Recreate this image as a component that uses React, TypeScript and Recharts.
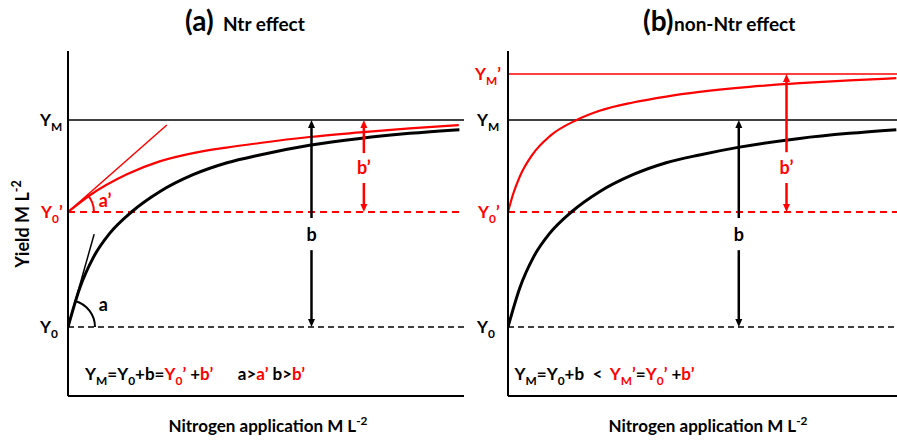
import React from 'react';
import { LineChart, Line, XAxis, YAxis, ReferenceLine, ReferenceDot } from 'recharts';

const RED = '#ff0000';
const BLACK = '#000000';
const FONT = 'Lato, "Open Sans", sans-serif';

// Reference levels
const Y0 = 1.5;
const Y0P = 4;
const YM = 6;
const YMP = 7;

const yTicks = [0, 1, 2, 3, 4, 5, 6, 7];
const xTicksA = [0, 1, 2, 3, 4, 5, 6];
const xTicksB = [0, 1, 2, 3, 4, 5];

// Panel (a) Ntr effect
const aBlackX = [0, 0.18, 0.39, 0.64, 0.97, 1.4, 1.91, 2.43, 2.93, 3.69, 4.46, 5.22, 5.98];
const aBlackY = [1.5, 2.35, 3.02, 3.54, 4.0, 4.44, 4.81, 5.07, 5.24, 5.45, 5.6, 5.71, 5.79];
const aRedX = [0, 0.34, 0.9, 1.4, 1.91, 2.42, 2.93, 3.69, 4.46, 5.22, 5.97];
const aRedY = [4.0, 4.37, 4.82, 5.1, 5.28, 5.4, 5.5, 5.63, 5.73, 5.82, 5.89];

// Panel (b) non-Ntr effect
const bBlackX = [0, 0.18, 0.39, 0.64, 0.97, 1.4, 1.91, 2.42, 2.93, 3.54, 4.46, 5.22, 5.94];
const bBlackY = [1.5, 2.35, 3.02, 3.54, 4.0, 4.44, 4.81, 5.07, 5.24, 5.41, 5.6, 5.71, 5.79];
const bRedX = [0, 0.076, 0.18, 0.38, 0.64, 1.05, 1.4, 1.91, 2.42, 2.93, 3.69, 4.46, 5.22, 5.94];
const bRedY = [4.0, 4.38, 4.77, 5.26, 5.65, 6.0, 6.2, 6.38, 6.51, 6.61, 6.72, 6.8, 6.86, 6.91];

// tangent segments (panel a)
const tangentBlack = [{ x: 0, y: 1.5 }, { x: 0.4, y: 3.52 }];
const tangentRed = [{ x: 0, y: 4 }, { x: 1.51, y: 5.89 }];

// arrows: x, start of shaft (label gap side), tip
const aArrows = [
  { x: 3.72, from: 3.87, to: YM, color: BLACK },
  { x: 3.72, from: 3.17, to: Y0, color: BLACK },
  { x: 4.52, from: 5.28, to: YM, color: RED },
  { x: 4.52, from: 4.63, to: Y0P, color: RED },
];
const bArrows = [
  { x: 3.53, from: 3.87, to: YM, color: BLACK },
  { x: 3.53, from: 3.17, to: Y0, color: BLACK },
  { x: 4.26, from: 5.3, to: YMP, color: RED },
  { x: 4.26, from: 4.63, to: Y0P, color: RED },
];

type Seg = { t: string; c?: string; sub?: boolean; sup?: boolean };

const toData = (xs: number[], ys: number[]) => xs.map((x, i) => ({ x, y: ys[i] }));

function Rich({ x, y, segs, size, anchor = 'start', rotate }: { x: number; y: number; segs: Seg[]; size: number; anchor?: string; rotate?: number }) {
  let shift = 0;
  const spans = segs.map((s, i) => {
    const target = s.sub ? size * 0.28 : s.sup ? -size * 0.42 : 0;
    const dy = target - shift;
    shift = target;
    return (
      <tspan key={i} dy={dy} fill={s.c || BLACK} fontSize={s.sub || s.sup ? size * 0.7 : size}>
        {s.t}
      </tspan>
    );
  });
  return (
    <text
      x={x}
      y={y}
      fontFamily={FONT}
      fontWeight="bold"
      fontSize={size}
      textAnchor={anchor as any}
      style={{ whiteSpace: 'pre' }}
      transform={rotate ? `rotate(${rotate}, ${x}, ${y})` : undefined}
    >
      {spans}
    </text>
  );
}

const textShape = (segs: Seg[], size: number, dx: number, dy: number, anchor = 'start') => (p: any) => (
  <Rich x={p.cx + dx} y={p.cy + dy} segs={segs} size={size} anchor={anchor} />
);

const arcShape = (color: string, r: number, deg: number) => (p: any) => {
  const a = (deg * Math.PI) / 180;
  const sx = p.cx + r;
  const sy = p.cy;
  const ex = p.cx + r * Math.cos(a);
  const ey = p.cy - r * Math.sin(a);
  return <path d={`M ${sx} ${sy} A ${r} ${r} 0 0 0 ${ex} ${ey}`} fill="none" stroke={color} strokeWidth={2} />;
};

const arrowShape = (color: string, width: number) => (p: any) => {
  const { x1, y1, x2, y2 } = p;
  const dx = x2 - x1;
  const dy = y2 - y1;
  const len = Math.hypot(dx, dy) || 1;
  const ux = dx / len;
  const uy = dy / len;
  const L = 8;
  const W = 3.5;
  const bx = x2 - ux * L;
  const by = y2 - uy * L;
  const px = -uy;
  const py = ux;
  return (
    <g>
      <line x1={x1} y1={y1} x2={bx} y2={by} stroke={color} strokeWidth={width} />
      <polygon points={`${x2},${y2} ${bx + px * W},${by + py * W} ${bx - px * W},${by - py * W}`} fill={color} />
    </g>
  );
};

const axisLine = { stroke: BLACK, strokeWidth: 2 };
const tickLine = { stroke: BLACK, strokeWidth: 1.5 };

const lblYM: Seg[] = [{ t: 'Y' }, { t: 'M', sub: true }];
const lblY0: Seg[] = [{ t: 'Y' }, { t: '0', sub: true }];
const lblY0P: Seg[] = [{ t: 'Y', c: RED }, { t: '0', sub: true, c: RED }, { t: '’', c: RED }];
const lblYMP: Seg[] = [{ t: 'Y', c: RED }, { t: 'M', sub: true, c: RED }, { t: '’', c: RED }];

const formulaA: Seg[] = [
  { t: 'Y' }, { t: 'M', sub: true }, { t: '=Y' }, { t: '0', sub: true }, { t: '+b=' },
  { t: 'Y', c: RED }, { t: '0', sub: true, c: RED }, { t: '’', c: RED }, { t: ' +' }, { t: 'b’', c: RED },
  { t: '      a>' }, { t: 'a’', c: RED }, { t: ' b>' }, { t: 'b’', c: RED },
];
const formulaB: Seg[] = [
  { t: 'Y' }, { t: 'M', sub: true }, { t: '=Y' }, { t: '0', sub: true }, { t: '+b  <  ' },
  { t: 'Y', c: RED }, { t: 'M', sub: true, c: RED }, { t: '’', c: RED }, { t: '=' },
  { t: 'Y', c: RED }, { t: '0', sub: true, c: RED }, { t: '’', c: RED }, { t: ' +' }, { t: 'b’', c: RED },
];

function renderArrows(list: typeof aArrows, prefix: string) {
  return list.map((a, i) => (
    <ReferenceLine
      key={prefix + i}
      segment={[{ x: a.x, y: a.from }, { x: a.x, y: a.to }]}
      stroke={a.color}
      shape={arrowShape(a.color, 2.5)}
    />
  ));
}

function PanelA() {
  return (
    <LineChart width={470} height={440} margin={{ top: 51, right: 6, bottom: 24, left: 8 }}>
      <XAxis type="number" dataKey="x" domain={[0, 6.05]} ticks={xTicksA} allowDataOverflow tick={false} tickSize={4} axisLine={axisLine} tickLine={tickLine} height={20} />
      <YAxis type="number" domain={[0, 7.5]} ticks={yTicks} allowDataOverflow tick={false} tickSize={4} axisLine={axisLine} tickLine={tickLine} width={60} />
      <ReferenceLine y={YM} stroke={BLACK} strokeWidth={1.5} />
      <ReferenceLine y={Y0P} stroke={RED} strokeWidth={2} strokeDasharray="7 5" />
      <ReferenceLine y={Y0} stroke={BLACK} strokeWidth={1.5} strokeDasharray="6 4" />
      <ReferenceLine segment={tangentBlack} stroke={BLACK} strokeWidth={1.5} />
      <ReferenceLine segment={tangentRed} stroke={RED} strokeWidth={1.5} />
      <Line data={toData(aBlackX, aBlackY)} dataKey="y" type="monotone" stroke={BLACK} strokeWidth={3} dot={false} isAnimationActive={false} />
      <Line data={toData(aRedX, aRedY)} dataKey="y" type="monotone" stroke={RED} strokeWidth={2.2} dot={false} isAnimationActive={false} />
      {renderArrows(aArrows, 'a')}
      <ReferenceDot x={0} y={Y0} shape={arcShape(BLACK, 27, 75)} />
      <ReferenceDot x={0} y={Y0P} shape={arcShape(RED, 26, 42)} />
      <ReferenceDot x={0.47} y={1.96} shape={textShape([{ t: 'a' }], 18, 0, 5)} />
      <ReferenceDot x={0.47} y={4.22} shape={textShape([{ t: 'a’', c: RED }], 18, 0, 5)} />
      <ReferenceDot x={3.72} y={3.5} shape={textShape([{ t: 'b' }], 18, 0, 6, 'middle')} />
      <ReferenceDot x={4.52} y={4.96} shape={textShape([{ t: 'b’', c: RED }], 18, 0, 6, 'middle')} />
      <ReferenceDot x={0} y={YM} shape={textShape(lblYM, 17, -28, 6)} />
      <ReferenceDot x={0} y={Y0P} shape={textShape(lblY0P, 17, -27, 6)} />
      <ReferenceDot x={0} y={Y0} shape={textShape(lblY0, 17, -28, 6)} />
      <ReferenceDot x={0.26} y={0.35} shape={textShape(formulaA, 17, 0, 0)} />
    </LineChart>
  );
}

function PanelB() {
  return (
    <LineChart width={427} height={440} margin={{ top: 51, right: 0, bottom: 24, left: 8 }}>
      <XAxis type="number" dataKey="x" domain={[0, 5.95]} ticks={xTicksB} allowDataOverflow tick={false} tickSize={4} axisLine={axisLine} tickLine={tickLine} height={20} />
      <YAxis type="number" domain={[0, 7.5]} ticks={yTicks} allowDataOverflow tick={false} tickSize={4} axisLine={axisLine} tickLine={tickLine} width={30} />
      <ReferenceLine y={YMP} stroke={RED} strokeWidth={1.5} />
      <ReferenceLine y={YM} stroke={BLACK} strokeWidth={1.5} />
      <ReferenceLine y={Y0P} stroke={RED} strokeWidth={2} strokeDasharray="7 5" />
      <ReferenceLine y={Y0} stroke={BLACK} strokeWidth={1.5} strokeDasharray="6 4" />
      <Line data={toData(bBlackX, bBlackY)} dataKey="y" type="monotone" stroke={BLACK} strokeWidth={3} dot={false} isAnimationActive={false} />
      <Line data={toData(bRedX, bRedY)} dataKey="y" type="monotone" stroke={RED} strokeWidth={2.2} dot={false} isAnimationActive={false} />
      {renderArrows(bArrows, 'b')}
      <ReferenceDot x={3.53} y={3.5} shape={textShape([{ t: 'b' }], 18, 0, 6, 'middle')} />
      <ReferenceDot x={4.26} y={4.96} shape={textShape([{ t: 'b’', c: RED }], 18, 0, 6, 'middle')} />
      <ReferenceDot x={0} y={YMP} shape={textShape(lblYMP, 17, -33, 6)} />
      <ReferenceDot x={0} y={YM} shape={textShape(lblYM, 17, -31, 6)} />
      <ReferenceDot x={0} y={Y0P} shape={textShape(lblY0P, 17, -30, 6)} />
      <ReferenceDot x={0} y={Y0} shape={textShape(lblY0, 17, -31, 6)} />
      <ReferenceDot x={0.1} y={0.35} shape={textShape(formulaB, 17, 0, 0)} />
    </LineChart>
  );
}

export default function App() {
  return (
    <div style={{ position: 'absolute', left: 0, top: 0, width: 897, height: 440, background: '#fff', overflow: 'hidden' }}>
      <div style={{ position: 'absolute', left: 0, top: 0 }}>
        <PanelA />
      </div>
      <div style={{ position: 'absolute', left: 470, top: 0 }}>
        <PanelB />
      </div>
      <svg width={897} height={440} style={{ position: 'absolute', left: 0, top: 0, pointerEvents: 'none' }}>
        <Rich x={185} y={31} segs={[{ t: '(a)' }]} size={28} />
        <Rich x={223} y={31} segs={[{ t: 'Ntr effect' }]} size={19} />
        <Rich x={643} y={31} segs={[{ t: '(b)' }]} size={28} />
        <Rich x={674} y={31} segs={[{ t: 'non-Ntr effect' }]} size={19} />
        <Rich x={29} y={224} segs={[{ t: 'Yield M L' }, { t: '-2', sup: true }]} size={18} anchor="middle" rotate={-90} />
        <Rich x={268} y={432} segs={[{ t: 'Nitrogen application M L' }, { t: '-2', sup: true }]} size={17} anchor="middle" />
        <Rich x={708} y={432} segs={[{ t: 'Nitrogen application M L' }, { t: '-2', sup: true }]} size={17} anchor="middle" />
      </svg>
    </div>
  );
}
